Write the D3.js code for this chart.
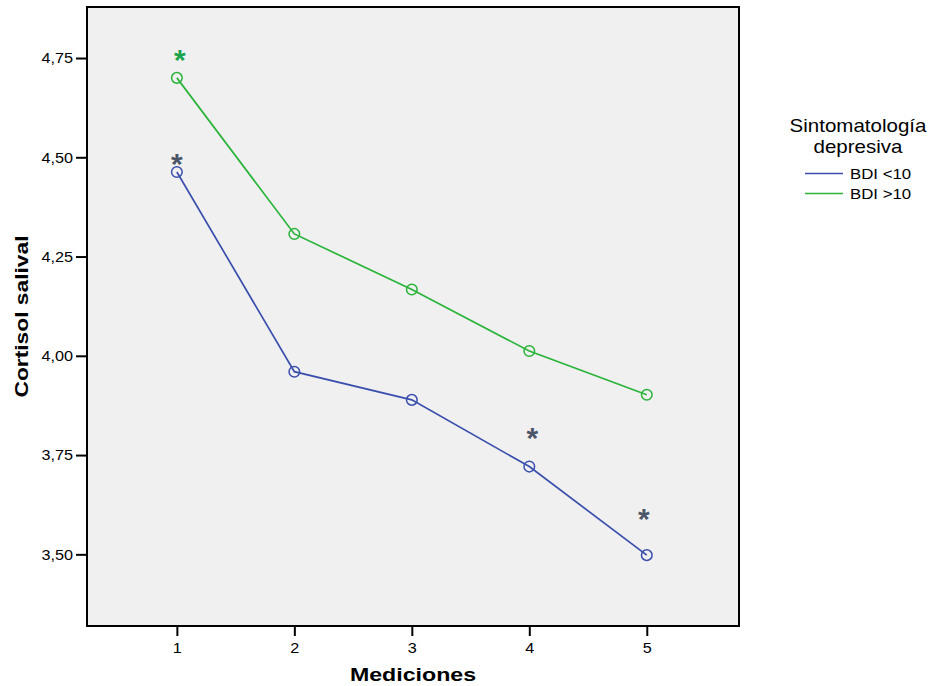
<!DOCTYPE html>
<html>
<head>
<meta charset="utf-8">
<script src="https://cdn.jsdelivr.net/npm/d3@7"></script>
<style>
  body { margin: 0; background: #fff; }
  svg text { font-family: "Liberation Sans", Arial, sans-serif; }
</style>
</head>
<body>
<svg id="chart" width="933" height="686"></svg>
<script>
// Mean salivary cortisol across five measurements, by depressive symptoms group
const mediciones = [1, 2, 3, 4, 5];
const bdiMenor10 = [4.463, 3.960, 3.889, 3.721, 3.498];
const bdiMayor10 = [4.700, 4.307, 4.167, 4.012, 3.902];
const yTicks = [3.50, 3.75, 4.00, 4.25, 4.50, 4.75];
const seriesNames = ["BDI <10", "BDI >10"];
// significance marks: [medicion, value position, series index, x nudge]
const marks = [[1, 4.500, 0, 0], [4, 3.810, 0, 3], [5, 3.607, 0, -3], [1, 4.764, 1, 3]];

const colors = ["#3a4fad", "#2ab43a"];
const markColors = ["#4b5568", "#1aa54c"];

const svg = d3.select("#chart");
const plot = { left: 87, top: 7, right: 739, bottom: 626 };

const x = d3.scaleLinear().domain([0.235, 5.785]).range([plot.left, plot.right]);
const y = d3.scaleLinear().domain([3.3195, 4.8785]).range([plot.bottom, plot.top]);

// text set wide, stretched along its baseline
function wideText(parent, tx, ty, str, size, sx, opts = {}) {
  const g = parent.append("g")
    .attr("transform", `translate(${tx},${ty})${opts.rotate ? ` rotate(${opts.rotate})` : ""} scale(${sx},1)`);
  return g.append("text")
    .attr("text-anchor", opts.anchor || "start")
    .attr("font-size", size)
    .attr("font-weight", opts.bold ? "bold" : "normal")
    .attr("fill", "#000")
    .text(str);
}

svg.append("rect")
  .attr("x", plot.left).attr("y", plot.top)
  .attr("width", plot.right - plot.left).attr("height", plot.bottom - plot.top)
  .attr("fill", "#f0f0f0");

// axes
const tickStretch = 1.08;
const yAxis = svg.append("g")
  .attr("transform", `translate(${plot.left},0)`)
  .call(d3.axisLeft(y).tickValues(yTicks).tickSize(11).tickPadding(3)
    .tickFormat(d => d3.format(".2f")(d).replace(".", ",")));
const xAxis = svg.append("g")
  .attr("transform", `translate(0,${plot.bottom})`)
  .call(d3.axisBottom(x).tickValues(mediciones).tickSize(10).tickPadding(6)
    .tickFormat(d3.format("d")));
[yAxis, xAxis].forEach(a => {
  a.select(".domain").remove();
  a.selectAll(".tick line").attr("stroke", "#000").attr("stroke-width", 2);
  a.selectAll(".tick text").attr("font-size", 15).attr("fill", "#000")
    .attr("transform", `scale(${tickStretch},1)`);
});
yAxis.selectAll(".tick text").attr("x", -14 / tickStretch);

// frame
svg.append("rect")
  .attr("x", plot.left).attr("y", plot.top)
  .attr("width", plot.right - plot.left).attr("height", plot.bottom - plot.top)
  .attr("fill", "none").attr("stroke", "#000").attr("stroke-width", 2);

// lines and markers
const line = d3.line().x((d, i) => x(mediciones[i])).y(d => y(d));
[bdiMenor10, bdiMayor10].forEach((vals, s) => {
  svg.append("path").datum(vals)
    .attr("d", line).attr("fill", "none")
    .attr("stroke", colors[s]).attr("stroke-width", 1.7);
  svg.selectAll(null).data(vals).enter().append("circle")
    .attr("cx", (d, i) => x(mediciones[i])).attr("cy", d => y(d))
    .attr("r", 5.3).attr("fill", "none")
    .attr("stroke", colors[s]).attr("stroke-width", 1.5);
});

// significance asterisks
const starSize = 30;
svg.selectAll(null).data(marks).enter().append("text")
  .attr("x", d => x(d[0]) + d[3])
  .attr("y", d => y(d[1]) + starSize * 0.57)
  .attr("text-anchor", "middle")
  .attr("font-size", starSize).attr("font-weight", "bold")
  .attr("fill", d => markColors[d[2]])
  .text("*");

// axis titles
wideText(svg, (plot.left + plot.right) / 2, 681, "Mediciones", 19, 1.22, { anchor: "middle", bold: true });
wideText(svg, 28, (plot.top + plot.bottom) / 2, "Cortisol salival", 19, 1.2, { anchor: "middle", bold: true, rotate: -90 });

// legend
const lg = svg.append("g");
wideText(lg, 858, 132, "Sintomatología", 18, 1.14, { anchor: "middle" });
wideText(lg, 858, 153, "depresiva", 18, 1.14, { anchor: "middle" });
seriesNames.forEach((name, i) => {
  const yy = 173.5 + i * 20;
  lg.append("line").attr("x1", 805).attr("x2", 843).attr("y1", yy).attr("y2", yy)
    .attr("stroke", colors[i]).attr("stroke-width", 1.7);
  wideText(lg, 850, yy + 5.5, name, 15, 1.12);
});
</script>
</body>
</html>
